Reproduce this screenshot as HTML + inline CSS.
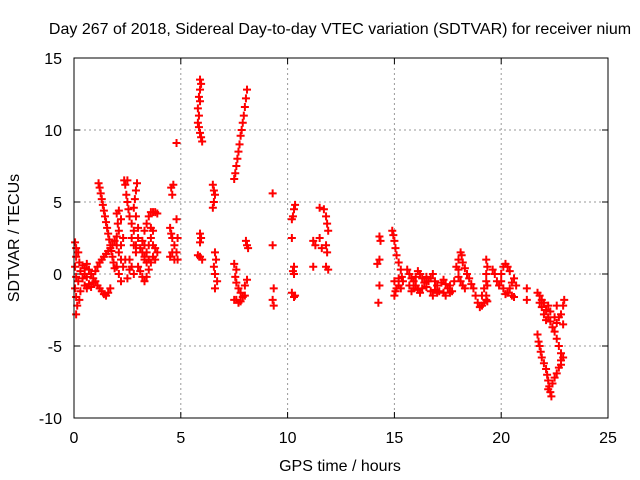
<!DOCTYPE html>
<html><head><meta charset="utf-8"><style>
body{margin:0;background:#fff;}
svg{display:block;font-family:"Liberation Sans",sans-serif;}
</style></head><body>
<svg id="chart" width="640" height="480" viewBox="0 0 640 480" xmlns="http://www.w3.org/2000/svg">
<rect width="640" height="480" fill="#fff"/>
<text x="340" y="34" font-size="16" text-anchor="middle">Day 267 of 2018, Sidereal Day-to-day VTEC variation (SDTVAR) for receiver nium</text>
<g id="grid"></g><g id="ticks"></g><g id="pts"></g>
<rect x="74" y="58" width="534" height="360" fill="none" stroke="#000" stroke-width="1"/>
<text x="340" y="471" font-size="16" text-anchor="middle">GPS time / hours</text>
<text x="0" y="0" font-size="16" text-anchor="middle" transform="translate(19,238) rotate(-90)">SDTVAR / TECUs</text>
</svg>
<script>
const xTicks=[0,5,10,15,20,25];
const yTicks=[-10,-5,0,5,10,15];
const times=[0.05,0.1,0.1,0.05,0.1,0.05,0.1,0.15,0.1,0.2,0.25,0.3,0.2,0.3,0.25,
0.4,0.5,0.6,0.7,0.8,0.9,1.0,0.5,0.6,0.7,0.8,0.9,1.1,1.2,1.3,1.4,1.5,1.6,1.7,0.4,0.5,0.6,
1.0,1.1,1.2,1.3,1.4,1.5,1.6,1.7,1.8,1.9,2.0,
1.15,1.2,1.25,1.3,1.35,1.4,1.45,1.5,1.55,1.6,1.65,1.7,1.75,1.8,1.85,1.9,
2.0,2.05,2.1,2.0,2.1,2.2,2.0,2.1,2.2,2.3,2.4,2.2,2.3,2.1,2.2,
2.35,2.4,2.5,2.45,2.5,2.55,2.6,2.7,2.8,2.7,2.8,2.9,2.6,2.7,2.8,2.5,2.6,
2.95,2.9,2.85,2.8,2.9,3.0,3.0,2.9,3.1,3.2,3.3,3.4,3.0,3.1,3.2,3.3,
3.2,3.3,3.4,3.5,3.6,3.7,3.8,3.9,3.3,3.4,3.5,3.6,3.7,3.8,3.5,3.6,3.7,3.8,3.9,3.5,3.4,3.6,3.7,3.3,
4.55,4.6,4.65,4.5,4.55,4.6,4.7,4.6,4.5,4.7,4.8,4.85,4.8,4.85,4.8,
5.9,5.95,5.9,5.85,5.9,5.8,5.85,5.8,5.85,5.9,5.95,6.0,5.9,5.95,5.9,5.8,5.9,6.0,
6.5,6.55,6.6,6.55,6.5,6.6,6.65,6.55,6.6,6.7,6.6,
7.5,7.55,7.6,7.65,7.7,7.75,7.8,7.85,7.9,7.95,8.0,8.05,8.1,
7.5,7.6,7.55,7.6,7.7,7.8,7.9,8.0,7.6,7.7,7.8,7.5,8.0,8.1,8.05,8.1,8.15,
9.3,9.3,9.35,9.3,9.35,
10.2,10.3,10.35,10.25,10.2,10.3,10.25,10.3,10.2,10.3,10.35,
11.2,11.3,11.2,11.5,11.5,11.6,11.7,11.8,11.85,11.9,11.8,11.85,11.8,11.9,
14.3,14.35,14.3,14.2,14.3,14.25,
14.9,14.95,15.0,15.05,15.1,15.2,15.3,15.35,15.4,15.0,15.1,15.0,15.05,15.2,15.3,15.2,
15.6,15.7,15.8,15.9,16.0,16.1,16.2,16.3,16.4,16.5,15.7,15.8,15.9,16.0,16.1,16.2,16.3,16.5,16.6,16.7,16.8,16.9,17.0,16.7,16.8,16.9,17.0,17.1,17.2,17.3,17.4,17.5,17.6,17.7,17.3,17.4,17.6,17.8,
17.9,18.0,18.1,18.15,18.2,18.3,18.4,18.5,18.6,18.7,18.8,18.9,19.0,19.1,18.0,18.1,18.2,18.3,18.0,19.1,19.2,19.3,19.2,19.3,
19.3,19.35,19.3,19.35,19.3,19.35,
19.6,19.7,19.8,19.9,20.0,20.1,20.2,20.3,20.4,20.0,20.1,20.2,20.3,20.4,20.5,20.5,20.6,20.7,20.6,
21.2,21.2,
21.7,21.8,21.9,22.0,22.1,22.2,22.3,22.4,22.5,22.6,22.7,22.8,22.9,21.8,21.9,22.0,22.1,22.2,22.3,22.5,22.6,22.7,22.8,22.9,22.9,22.6,22.95,
21.7,21.75,21.8,21.85,21.9,22.0,22.1,22.15,22.2,22.25,22.3,22.35,22.4,22.5,22.6,22.7,22.8,22.8,22.2];
const values=[2.2,1.8,1.2,0.5,-0.2,-1,-1.6,-2.2,-2.8,1.5,0.8,0.2,-0.5,-1.2,-1.8,
0.6,0.4,0.7,0.3,0.0,-0.3,-0.5,-0.8,-1.0,-0.7,-0.9,-0.6,-0.8,-1.0,-1.2,-1.4,-1.5,-1.3,-1.0,-0.3,0.0,-0.2,
0.2,0.5,0.8,1.0,1.2,1.4,1.6,1.8,2.0,2.3,2.6,
6.3,6.0,5.6,5.2,4.8,4.4,4.0,3.6,3.2,2.8,2.4,2.0,1.6,1.2,0.8,0.4,
4.2,3.5,3.0,2.0,1.5,1.0,0.5,0.0,-0.5,0.5,1.0,2.0,2.5,4.4,3.8,
6.5,6.2,6.5,5.5,5.0,4.5,4.0,3.5,3.0,2.5,2.0,1.5,1.0,0.5,0.0,-0.3,0.3,
6.3,5.8,5.2,4.6,4.0,3.2,2.5,2.0,1.8,1.5,1.2,0.8,0.5,0.2,-0.2,-0.5,
2.3,3.0,3.5,4.0,4.3,4.3,4.3,4.2,1.0,1.5,2.0,2.5,2.0,1.8,1.0,0.8,1.2,1.0,1.5,0.3,-0.2,3.2,3.0,2.0,
6.0,5.5,6.2,3.2,2.8,2.5,2.0,1.5,1.2,1.0,3.8,2.5,1.5,1.0,9.1,
13.5,13.2,12.8,12.3,12.0,11.5,11.0,10.5,10.2,9.8,9.5,9.2,2.8,2.5,2.2,1.3,1.2,1.0,
6.2,5.8,5.5,5.0,4.6,1.5,1.0,0.5,0.0,-0.5,-1.0,
6.6,7.0,7.5,8.0,8.5,9.0,9.6,10.0,10.5,11.0,11.6,12.2,12.8,
0.7,0.3,-0.2,-0.6,-1.0,-1.3,-1.6,-1.5,-1.8,-2.0,-1.9,-1.8,-0.8,-0.4,2.3,2.0,1.8,
5.6,2.0,-1.0,-1.8,-2.2,
3.8,4.5,4.8,4.0,2.5,0.5,0.2,0.0,-1.3,-1.6,-1.5,
2.3,2.0,0.5,4.6,2.5,1.8,4.5,4.0,3.5,3.0,2.0,1.5,0.5,0.3,
2.6,2.3,1.0,0.7,-0.8,-2.0,
3.0,2.7,2.3,1.8,1.3,0.8,0.3,-0.2,-0.5,-0.5,-1.0,-1.5,-1.2,-0.8,-1.0,-0.3,
0.3,0.0,-0.3,-0.5,-0.2,0.2,0.0,-0.3,-0.6,-0.9,-0.8,-1.2,-1.0,-0.8,-1.1,-1.3,-1.0,-0.2,-0.5,-0.3,0.0,-0.5,-0.8,-1.2,-1.5,-1.1,-1.3,-1.2,-0.6,-0.4,-0.7,-1.0,-0.8,-1.2,-1.3,-1.5,-1.3,-0.5,
0.5,1.0,1.5,1.3,0.8,0.4,0.0,-0.3,-0.7,-1.0,-1.5,-2.0,-2.3,-2.2,-0.2,-0.5,-0.8,-1.0,0.3,-1.5,-1.0,-0.5,-2.0,-1.8,
1.0,0.5,0.0,-0.8,-1.5,-1.9,
0.3,0.0,-0.5,-0.8,0.0,0.5,0.7,0.5,0.2,-0.5,-1.0,-1.4,-1.3,-1.0,-0.6,-1.5,-0.3,-0.8,-1.6,
-1.0,-1.8,
-1.3,-1.5,-1.8,-2.0,-2.5,-3.0,-3.3,-3.7,-4.0,-4.5,-5.0,-5.5,-5.8,-2.0,-2.3,-2.8,-3.2,-2.2,-2.6,-3.0,-3.4,-3.0,-2.8,-2.2,-3.5,-2.2,-1.8,
-4.2,-4.7,-5.0,-5.4,-5.8,-6.2,-6.6,-7.0,-7.4,-7.8,-8.2,-8.5,-7.6,-7.2,-6.9,-6.5,-6.0,-6.3,-8.0];
const X0=74,X1=608,Y0=418,Y1=58;
function xs(t){return X0+(t-0)/(25-0)*(X1-X0);}
function ys(v){return Y0-(v+10)/(15+10)*(Y0-Y1);}
const NS="http://www.w3.org/2000/svg";
const grid=document.getElementById('grid'),ticks=document.getElementById('ticks'),pts=document.getElementById('pts');
function mk(tag,attrs,parent){const e=document.createElementNS(NS,tag);for(const k in attrs)e.setAttribute(k,attrs[k]);parent.appendChild(e);return e;}
xTicks.forEach(t=>{const x=xs(t);
 if(t>0&&t<25){const g=mk('line',{x1:x,x2:x,y1:Y1,y2:Y0,stroke:'#999','stroke-dasharray':'2,3'},grid);
 
 }
 mk('line',{x1:x,x2:x,y1:Y0,y2:Y0-6,stroke:'#000'},ticks);
 mk('line',{x1:x,x2:x,y1:Y1,y2:Y1+6,stroke:'#000'},ticks);
 const l=mk('text',{x:x,y:Y0+25,'font-size':16,'text-anchor':'middle'},ticks);l.textContent=t;
 
 });
yTicks.forEach(v=>{const y=ys(v);
 if(v>-10&&v<15){const g=mk('line',{x1:X0,x2:X1,y1:y,y2:y,stroke:'#999','stroke-dasharray':'2,3'},grid);
 
 }
 mk('line',{x1:X0,x2:X0+6,y1:y,y2:y,stroke:'#000'},ticks);
 mk('line',{x1:X1,x2:X1-6,y1:y,y2:y,stroke:'#000'},ticks);
 const l=mk('text',{x:X0-12,y:y+6,'font-size':16,'text-anchor':'end'},ticks);l.textContent=v;
 
 });
let d='';
for(let i=0;i<times.length;i++){const x=xs(times[i]),y=ys(values[i]);
 d+=`M${x-4} ${y}h8M${x} ${y-4}v8`;}
const p=mk('path',{d:d,stroke:'#f00','stroke-width':2,fill:'none'},pts);


</script>
</body></html>
